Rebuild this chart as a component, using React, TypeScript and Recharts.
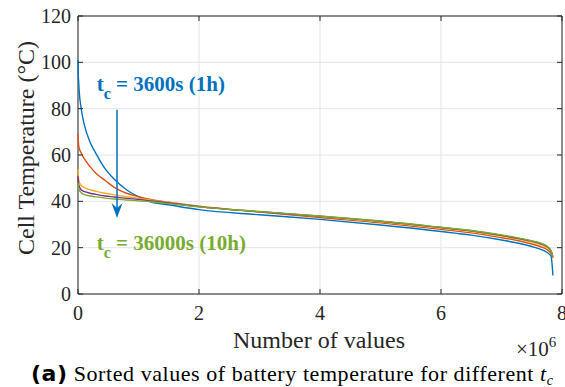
import { LineChart, Line, XAxis, YAxis, CartesianGrid, ReferenceArea, ReferenceLine, ReferenceDot } from 'recharts'

// x in units of 1e6 values
const xValues = [0, 0.005, 0.01, 0.02, 0.05, 0.1, 0.2, 0.3, 0.45, 0.6, 0.8, 1.0, 1.2, 1.5, 2, 3, 4, 5, 6, 6.5, 7, 7.3, 7.5, 7.65, 7.75, 7.82, 7.85]

const temp1h = [101, 95, 92, 87.5, 80.5, 73.5, 65.5, 60.5, 54, 49.5, 45, 42, 39.8, 38.5, 36.4, 34.2, 32.2, 29.8, 27.0, 25.4, 23.3, 21.8, 20.5, 19.3, 18, 16.2, 8]
const tempB = [69, 66, 64.5, 63, 61, 58.5, 55, 52, 49, 46, 43.5, 42, 40.8, 39.6, 37.9, 35.4, 33.0, 30.7, 27.9, 26.4, 24.3, 22.9, 21.6, 20.4, 19.2, 17.3, 15.5]
const tempC = [54, 51, 49.7, 48.5, 47, 46, 45, 44.3, 43.5, 42.8, 42, 41.3, 40.5, 39.5, 37.8, 35.5, 33.5, 31.2, 28.5, 27.0, 25.0, 23.6, 22.4, 21.3, 20.0, 18.0, 15.8]
const tempD = [51, 48.5, 47.5, 46.5, 45, 44.3, 43.5, 43, 42.3, 41.9, 41.3, 40.8, 40.2, 39.3, 37.7, 35.5, 33.6, 31.4, 28.7, 27.3, 25.3, 23.9, 22.8, 21.7, 20.5, 18.5, 16]
const temp10h = [48, 46.5, 45.8, 45, 43.8, 43, 42.3, 41.9, 41.4, 41, 40.6, 40.2, 39.8, 39, 37.6, 35.6, 33.7, 31.5, 28.8, 27.4, 25.5, 24.1, 23.0, 21.9, 20.7, 18.7, 16]

const xTicks = [0, 2, 4, 6, 8]
const yTicks = [0, 20, 40, 60, 80, 100, 120]

const SERIES = [
  { key: 'a', values: temp1h, color: '#0072BD' },
  { key: 'b', values: tempB, color: '#D95319' },
  { key: 'c', values: tempC, color: '#EDB120' },
  { key: 'd', values: tempD, color: '#7E2F8E' },
  { key: 'e', values: temp10h, color: '#77AC30' },
]

const data = xValues.map((x, i) => {
  const row: Record<string, number> = { x }
  SERIES.forEach(s => { row[s.key] = s.values[i] })
  return row
})

const W = 565
const H = 387
const PLOT = { left: 78, top: 16, right: 562, bottom: 294 }
const AXIS = '#262626'
const FONT = '"Liberation Serif", "Times New Roman", serif'

const YTick = ({ y, payload }: any) => (
  <g>
    <line x1={PLOT.left} x2={PLOT.left + 5} y1={y} y2={y} stroke={AXIS} />
    <line x1={PLOT.right - 5} x2={PLOT.right} y1={y} y2={y} stroke={AXIS} />
    <text x={PLOT.left - 7} y={y} dy="0.35em" textAnchor="end" fontSize={20} fontFamily={FONT} fill={AXIS}>
      {payload.value}
    </text>
  </g>
)

const XTick = ({ x, payload }: any) => (
  <g>
    <line x1={x} x2={x} y1={PLOT.bottom} y2={PLOT.bottom - 5} stroke={AXIS} />
    <line x1={x} x2={x} y1={PLOT.top} y2={PLOT.top + 5} stroke={AXIS} />
    <text x={x} y={313} dy="0.35em" textAnchor="middle" fontSize={20} fontFamily={FONT} fill={AXIS}>
      {payload.value}
    </text>
  </g>
)

const arrowHead = ({ cx, cy }: any) => (
  <polygon points={`${cx},${cy} ${cx - 5.5},${cy - 15} ${cx},${cy - 10} ${cx + 5.5},${cy - 15}`} fill="#0072BD" />
)

const annot = (label: string, color: string) => ({ cx, cy }: any) => (
  <text x={cx} y={cy} fontSize={21} fontWeight="bold" fontFamily={FONT} fill={color}>
    <tspan>t</tspan>
    <tspan dy={8} fontSize={16}>c</tspan>
    <tspan dy={-8}>{' = ' + label}</tspan>
  </text>
)

export default function App() {
  return (
    <div style={{ position: 'absolute', left: 0, top: 0, width: W, height: H, background: '#fff' }}>
      <LineChart
        width={W}
        height={H}
        data={data}
        margin={{ top: PLOT.top, right: W - PLOT.right, bottom: 0, left: 0 }}
      >
        <CartesianGrid stroke="#e5e5e5" strokeWidth={1} />
        <XAxis
          dataKey="x"
          type="number"
          domain={[0, 8]}
          ticks={xTicks}
          height={H - PLOT.bottom}
          axisLine={false}
          tickLine={false}
          tick={<XTick />}
          interval={0}
        />
        <YAxis
          type="number"
          domain={[0, 120]}
          ticks={yTicks}
          width={PLOT.left}
          axisLine={false}
          tickLine={false}
          tick={<YTick />}
          interval={0}
        />
        {SERIES.map(s => (
          <Line
            key={s.key}
            type="monotone"
            dataKey={s.key}
            stroke={s.color}
            strokeWidth={1.4}
            dot={false}
            isAnimationActive={false}
          />
        ))}
        <ReferenceArea x1={0} x2={8} y1={0} y2={120} fill="none" stroke={AXIS} strokeWidth={1} fillOpacity={0} />
        <ReferenceLine segment={[{ x: 0.645, y: 79.5 }, { x: 0.645, y: 36 }]} stroke="#0072BD" strokeWidth={1.5} />
        <ReferenceDot x={0.645} y={32.8} r={0} shape={arrowHead} />
        <ReferenceDot x={0.31} y={87.5} r={0} shape={annot('3600s (1h)', '#0072BD')} />
        <ReferenceDot x={0.31} y={19} r={0} shape={annot('36000s (10h)', '#77AC30')} />
      </LineChart>
      <svg width={W} height={H} style={{ position: 'absolute', left: 0, top: 0, pointerEvents: 'none' }}>
        <text x={26} y={148} transform="rotate(-90 26 148)" textAnchor="middle" dy="0.35em" fontSize={24} fontFamily={FONT} fill={AXIS}>
          Cell Temperature (°C)
        </text>
        <text x={319} y={340} textAnchor="middle" dy="0.35em" fontSize={24} fontFamily={FONT} fill={AXIS}>
          Number of values
        </text>
        <text x={516} y={356} fontSize={21} fontFamily={FONT} fill={AXIS}>
          ×10<tspan dy={-9} fontSize={15}>6</tspan>
        </text>
        <text x={31} y={381} fontSize={22} fontFamily={FONT} fill="#000" textLength={522} lengthAdjust="spacing">
          <tspan fontWeight="bold" fontFamily='"DejaVu Sans", sans-serif'>(a)</tspan>
          <tspan> Sorted values of battery temperature for different </tspan>
          <tspan fontStyle="italic">t</tspan>
          <tspan fontStyle="italic" fontSize={14} dy={4}>c</tspan>
        </text>
      </svg>
    </div>
  )
}
